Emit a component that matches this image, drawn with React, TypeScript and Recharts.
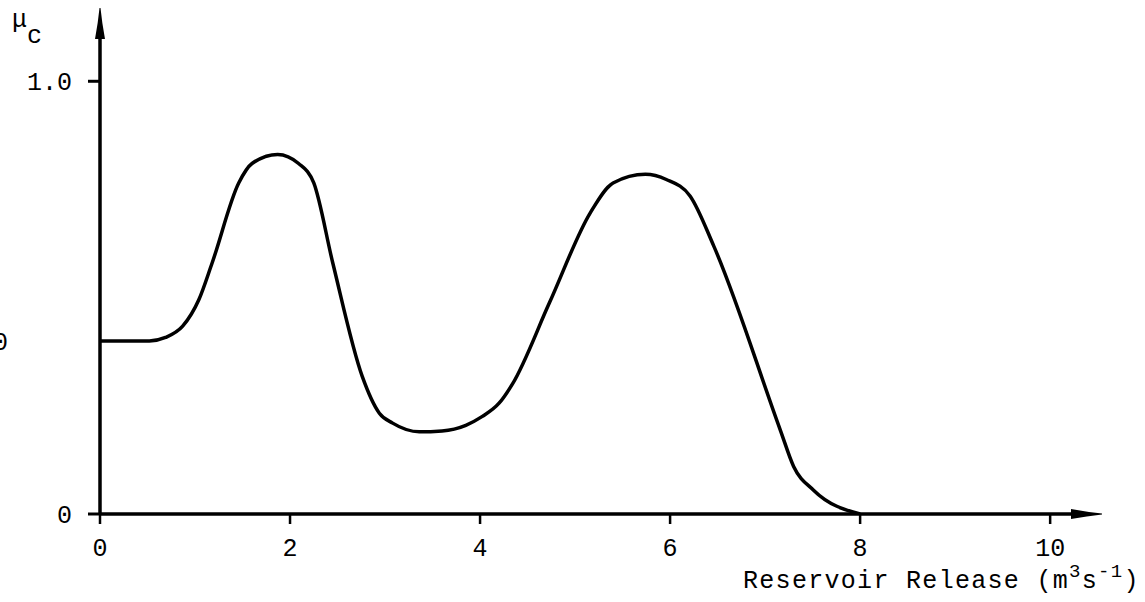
import React from 'react';
import { LineChart, Line, XAxis, YAxis } from 'recharts';

// membership curve
const releaseX = [0, 0.52, 0.69, 0.87, 1.04, 1.18, 1.46, 1.6, 1.87, 2.09, 2.25, 2.45, 2.76, 2.94, 3.08, 3.36, 3.6, 3.85, 4.02, 4.2, 4.34, 4.73, 5.16, 5.4, 5.74, 5.96, 6.21, 6.46, 7.16, 7.3, 7.51, 8.0];
const muC = [0.4, 0.4, 0.408, 0.434, 0.495, 0.58, 0.765, 0.81, 0.831, 0.81, 0.765, 0.58, 0.318, 0.233, 0.21, 0.19, 0.192, 0.205, 0.225, 0.256, 0.3, 0.488, 0.696, 0.765, 0.785, 0.773, 0.735, 0.619, 0.194, 0.11, 0.055, 0];
const xTicks = [0, 2, 4, 6, 8, 10];
const yTicks = [0, 0.4, 1];
const yTickLabels = ['0', '0.40', '1.0'];

const data = releaseX.map((x, i) => ({ x, mu: muC[i] }));
const FONT = "'Liberation Mono', 'DejaVu Sans Mono', monospace";

function YTick(props: any) {
  const { x, y, payload, index } = props;
  const far = payload.value > 0.1 && payload.value < 0.9;
  return (
    <g>
      {!far && <line x1={x - 12} x2={x} y1={y} y2={y} stroke="#000" strokeWidth={3} />}
      <text x={far ? x - 92 : x - 28} y={y} dy="0.35em" textAnchor="end" fontFamily={FONT} fontSize={25} fill="#000">
        {yTickLabels[index] ?? ''}
      </text>
    </g>
  );
}

function XLabel(props: any) {
  const vb = props.viewBox;
  return (
    <text x={vb.x + 643} y={vb.y + 74} fontFamily={FONT} fontSize={25} letterSpacing={1.3} fill="#000">
      Reservoir Release (m
      <tspan fontSize={19} dy={-11}>3</tspan>
      <tspan dy={11}>s</tspan>
      <tspan fontSize={19} dy={-11}>-1</tspan>
      <tspan dy={11}>)</tspan>
    </text>
  );
}

function YLabel(props: any) {
  const vb = props.viewBox;
  return (
    <text x={vb.x + 12} y={vb.y - 11} fontFamily={FONT} fontSize={25} fill="#000">
      μ<tspan x={vb.x + 27} y={vb.y + 5}>c</tspan>
    </text>
  );
}

export default function App() {
  return (
    <div style={{ position: 'absolute', left: 0, top: 0 }}>
      <svg width={0} height={0} style={{ position: 'absolute' }}>
        <defs>
          <marker id="arrowX" markerUnits="userSpaceOnUse" markerWidth={32} markerHeight={14} refX={1} refY={7} orient="auto">
            <path d="M0,2 Q16,5 31,6.5 L31,7.5 Q16,9 0,12 Z" fill="#000" />
          </marker>
          <marker id="arrowY" markerUnits="userSpaceOnUse" markerWidth={32} markerHeight={14} refX={1} refY={7} orient="auto-start-reverse">
            <path d="M0,2 Q16,5 31,6.5 L31,7.5 Q16,9 0,12 Z" fill="#000" />
          </marker>
        </defs>
      </svg>
      <LineChart width={1145} height={602} data={data} margin={{ top: 38, right: 73, left: 0, bottom: 0 }}>
        <XAxis
          dataKey="x"
          type="number"
          domain={[0, 10.23]}
          ticks={xTicks}
          allowDataOverflow
          height={88}
          tickSize={10}
          tickMargin={14}
          axisLine={{ stroke: '#000', strokeWidth: 3.5, markerEnd: 'url(#arrowX)' }}
          tickLine={{ stroke: '#000', strokeWidth: 2.5 }}
          tick={{ fill: '#000', fontSize: 25, fontFamily: FONT }}
          label={<XLabel />}
        />
        <YAxis
          type="number"
          domain={[0, 1.1]}
          ticks={yTicks}
          allowDataOverflow
          width={100}
          tickSize={0}
          tickMargin={0}
          tickLine={false}
          axisLine={{ stroke: '#000', strokeWidth: 3.5, markerStart: 'url(#arrowY)' }}
          tick={<YTick />}
          label={<YLabel />}
        />
        <Line type="monotone" dataKey="mu" stroke="#000" strokeWidth={3.5} dot={false} isAnimationActive={false} />
      </LineChart>
    </div>
  );
}
